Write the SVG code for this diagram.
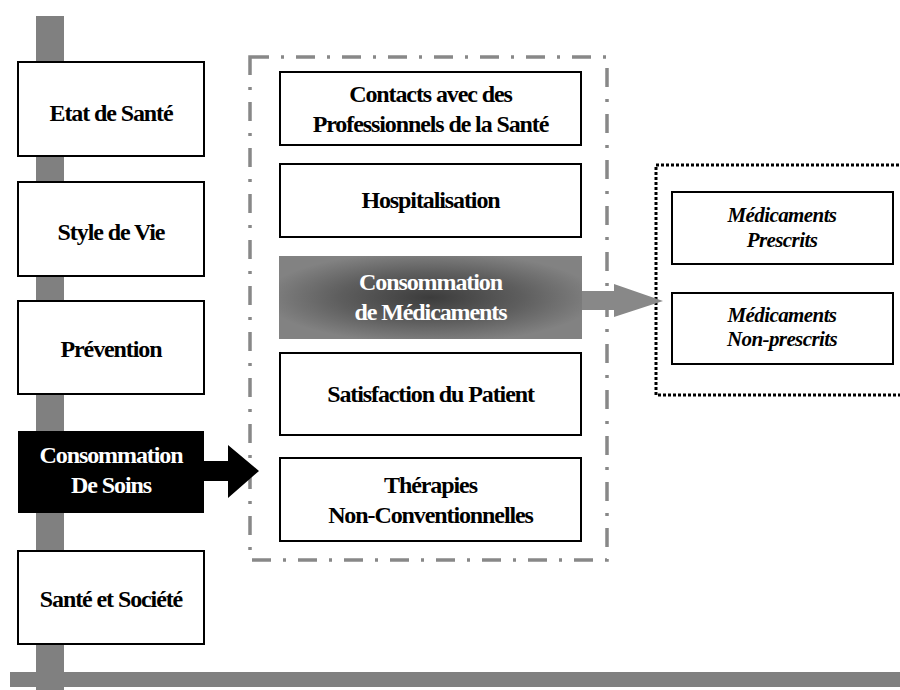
<svg xmlns="http://www.w3.org/2000/svg" width="900" height="690" viewBox="0 0 900 690">
  <style>
    .box { fill: #ffffff; stroke: #000000; stroke-width: 2; }
    .t { font-family: "Liberation Serif", "Times New Roman", serif; font-weight: bold; font-size: 24px; letter-spacing: -1.1px; text-anchor: middle; fill: #000000; }
    .w { fill: #ffffff; }
    .it { font-style: italic; font-size: 21px; letter-spacing: -0.6px; }
    .bar { fill: #808080; }
  </style>
  <defs>
    <radialGradient id="grayGrad" cx="50%" cy="50%" r="55%">
      <stop offset="0" stop-color="#3c3c3c"/>
      <stop offset="0.55" stop-color="#5e5e5e"/>
      <stop offset="1" stop-color="#828282"/>
    </radialGradient>
  </defs>
  <rect width="900" height="690" fill="#ffffff"/>

  <g id="backbone">
    <rect class="bar" x="36" y="16" width="28" height="674"/>
    <rect class="bar" x="10" y="672" width="890" height="15"/>
  </g>

  <g id="group-soins">
    <rect x="250" y="57" width="357" height="503" fill="none" stroke="#888888" stroke-width="3.5" stroke-dasharray="19 12 3 12"/>
  </g>
  <g id="group-medicaments">
    <rect x="656" y="165" width="270" height="230" fill="none" stroke="#000000" stroke-width="3" stroke-dasharray="3 2"/>
  </g>

  <g id="connectors">
    <path d="M204,461 L228,461 L228,445 L259,471 L228,498 L228,481 L204,481 Z" fill="#000000"/>
    <path d="M582,291 L614,291 L614,284 L663,301 L614,317 L614,310 L582,310 Z" fill="#888888"/>
  </g>

  <g id="etat-de-sante">
    <rect class="box" x="18" y="62" width="186" height="94"/>
    <text class="t" x="111" y="121">Etat de Santé</text>
  </g>
  <g id="style-de-vie">
    <rect class="box" x="18" y="182" width="186" height="94"/>
    <text class="t" x="111" y="240">Style de Vie</text>
  </g>
  <g id="prevention">
    <rect class="box" x="18" y="301" width="186" height="93"/>
    <text class="t" x="111" y="357">Prévention</text>
  </g>
  <g id="consommation-soins">
    <rect x="18" y="431" width="186" height="82" fill="#000000"/>
    <text class="t w" x="111" y="463">Consommation</text>
    <text class="t w" x="111" y="493">De Soins</text>
  </g>
  <g id="sante-societe">
    <rect class="box" x="18" y="551" width="186" height="93"/>
    <text class="t" x="111" y="607">Santé et Société</text>
  </g>

  <g id="contacts">
    <rect class="box" x="280" y="72" width="301" height="73"/>
    <text class="t" x="430.5" y="102">Contacts avec des</text>
    <text class="t" x="430.5" y="132">Professionnels de la Santé</text>
  </g>
  <g id="hospitalisation">
    <rect class="box" x="280" y="164" width="301" height="73"/>
    <text class="t" x="430.5" y="208">Hospitalisation</text>
  </g>
  <g id="consommation-medicaments">
    <rect x="279" y="256" width="303" height="83" fill="url(#grayGrad)"/>
    <text class="t w" x="430.5" y="290">Consommation</text>
    <text class="t w" x="430.5" y="320">de Médicaments</text>
  </g>
  <g id="satisfaction">
    <rect class="box" x="280" y="353" width="301" height="82"/>
    <text class="t" x="430.5" y="402">Satisfaction du Patient</text>
  </g>
  <g id="therapies">
    <rect class="box" x="280" y="458" width="301" height="83"/>
    <text class="t" x="430.5" y="493">Thérapies</text>
    <text class="t" x="430.5" y="523">Non-Conventionnelles</text>
  </g>

  <g id="medicaments-prescrits">
    <rect class="box" x="672" y="192" width="221" height="72"/>
    <text class="t it" x="782" y="222">Médicaments</text>
    <text class="t it" x="782" y="247">Prescrits</text>
  </g>
  <g id="medicaments-non-prescrits">
    <rect class="box" x="672" y="293" width="221" height="71"/>
    <text class="t it" x="782" y="322">Médicaments</text>
    <text class="t it" x="782" y="346">Non-prescrits</text>
  </g>
</svg>
